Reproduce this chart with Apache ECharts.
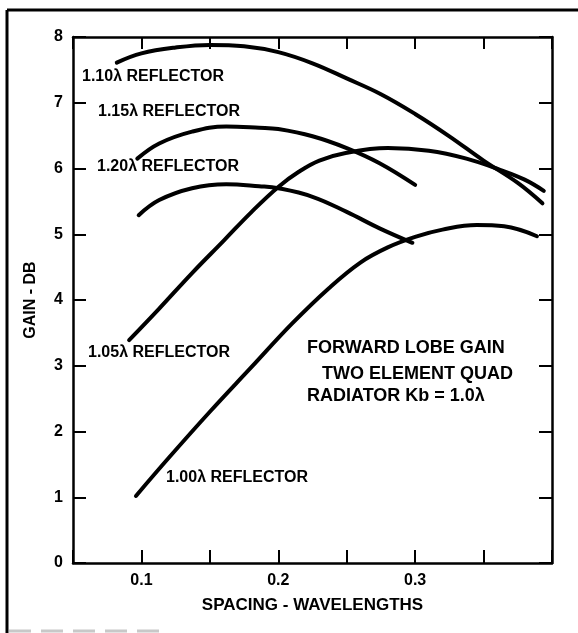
<!DOCTYPE html>
<html>
<head>
<meta charset="utf-8">
<script src="https://cdn.jsdelivr.net/npm/echarts@6/dist/echarts.min.js"></script>
<style>
  html, body { margin: 0; padding: 0; background: #fff; }
  #chart { width: 578px; height: 633px; }
</style>
</head>
<body>
<div id="chart"></div>
<script>
// ---- data ----
const xLabelValues = [0.1, 0.2, 0.3];
const xTickLabels = ['0.1', '0.2', '0.3'];

const r110_x = [0.082, 0.100, 0.125, 0.150, 0.175, 0.200, 0.225, 0.250, 0.275, 0.300, 0.325, 0.350, 0.375, 0.393];
const r110_y = [7.61, 7.75, 7.84, 7.88, 7.86, 7.77, 7.60, 7.37, 7.13, 6.83, 6.49, 6.12, 5.78, 5.47];

const r115_x = [0.097, 0.113, 0.137, 0.162, 0.186, 0.200, 0.225, 0.250, 0.274, 0.300];
const r115_y = [6.15, 6.38, 6.56, 6.64, 6.62, 6.60, 6.49, 6.31, 6.08, 5.75];

const r120_x = [0.098, 0.113, 0.137, 0.162, 0.186, 0.200, 0.225, 0.250, 0.274, 0.298];
const r120_y = [5.29, 5.52, 5.70, 5.76, 5.73, 5.70, 5.57, 5.34, 5.09, 4.87];

const r105_x = [0.091, 0.113, 0.137, 0.160, 0.180, 0.200, 0.215, 0.230, 0.250, 0.280, 0.310, 0.3375, 0.362, 0.380, 0.394];
const r105_y = [3.39, 3.87, 4.41, 4.90, 5.33, 5.72, 5.95, 6.12, 6.24, 6.31, 6.27, 6.15, 5.98, 5.83, 5.66];

const r100_x = [0.096, 0.120, 0.150, 0.180, 0.210, 0.237, 0.260, 0.280, 0.300, 0.320, 0.345, 0.365, 0.389];
const r100_y = [1.02, 1.60, 2.30, 2.97, 3.64, 4.18, 4.57, 4.80, 4.96, 5.07, 5.14, 5.12, 4.97];

const seriesNames = ['1.10λ REFLECTOR', '1.15λ REFLECTOR', '1.20λ REFLECTOR', '1.05λ REFLECTOR', '1.00λ REFLECTOR'];
const noteLines = ['FORWARD LOBE GAIN', 'TWO ELEMENT QUAD', 'RADIATOR Kb = 1.0λ'];
const xAxisTitle = 'SPACING - WAVELENGTHS';
const yAxisTitle = 'GAIN - DB';

// ---- build ----
const FONT = '"Liberation Sans", Arial, sans-serif';
const pairs = (xs, ys) => xs.map((x, i) => [x, ys[i]]);
const allData = [pairs(r110_x, r110_y), pairs(r115_x, r115_y), pairs(r120_x, r120_y), pairs(r105_x, r105_y), pairs(r100_x, r100_y)];

const axisLineStyle = { color: '#000', width: 2.5 };
const tickStyle = { color: '#000', width: 2 };

function xFmt(v) {
  for (let i = 0; i < xLabelValues.length; i++) {
    if (Math.abs(v - xLabelValues[i]) < 1e-6) return xTickLabels[i];
  }
  return '';
}

const labelStyle = { color: '#000', fontWeight: 'bold', fontSize: 16, fontFamily: FONT };

const chart = echarts.init(document.getElementById('chart'), null, { renderer: 'canvas' });

function txt(text, x, y, size) {
  return {
    type: 'text', x: x, y: y, z: 100,
    style: {
      text: text, fill: '#000',
      font: 'bold ' + size + 'px ' + FONT,
      textAlign: 'left', textVerticalAlign: 'middle',
      align: 'left', verticalAlign: 'middle'
    }
  };
}

const option = {
  animation: false,
  backgroundColor: '#fff',
  grid: { left: 73, right: 26, top: 37, bottom: 70 },
  xAxis: [
    {
      type: 'value', min: 0.05, max: 0.4, interval: 0.05, position: 'bottom',
      axisLine: { show: true, onZero: false, lineStyle: axisLineStyle },
      axisTick: { show: true, inside: true, length: 13, lineStyle: tickStyle },
      axisLabel: Object.assign({ formatter: xFmt, margin: 10, showMinLabel: true, showMaxLabel: true }, labelStyle),
      splitLine: { show: false },
      name: xAxisTitle, nameLocation: 'middle', nameGap: 34,
      nameTextStyle: { color: '#000', fontWeight: 'bold', fontSize: 17, fontFamily: FONT }
    },
    {
      type: 'value', min: 0.05, max: 0.4, interval: 0.05, position: 'top',
      axisLine: { show: true, onZero: false, lineStyle: axisLineStyle },
      axisTick: { show: true, inside: true, length: 12, lineStyle: tickStyle },
      axisLabel: { show: false },
      splitLine: { show: false }
    }
  ],
  yAxis: [
    {
      type: 'value', min: 0, max: 8, interval: 1, position: 'left',
      axisLine: { show: true, onZero: false, lineStyle: axisLineStyle },
      axisTick: { show: true, inside: true, length: 13, lineStyle: tickStyle },
      axisLabel: Object.assign({ margin: 10 }, labelStyle),
      splitLine: { show: false },
      name: yAxisTitle, nameLocation: 'middle', nameGap: 34,
      nameTextStyle: { color: '#000', fontWeight: 'bold', fontSize: 16, fontFamily: FONT }
    },
    {
      type: 'value', min: 0, max: 8, interval: 1, position: 'right',
      axisLine: { show: true, onZero: false, lineStyle: axisLineStyle },
      axisTick: { show: true, inside: true, length: 13, lineStyle: tickStyle },
      axisLabel: { show: false },
      splitLine: { show: false }
    }
  ],
  series: allData.map((d, i) => ({
    name: seriesNames[i],
    type: 'line', xAxisIndex: 0, yAxisIndex: 0,
    data: d, smooth: 0.4, symbol: 'none',
    lineStyle: { color: '#000', width: 4, cap: 'round' }
  })),
  graphic: [
    // scanned page frame
    { type: 'line', shape: { x1: 7, y1: 10, x2: 578, y2: 10 }, style: { stroke: '#000', lineWidth: 3 } },
    { type: 'line', shape: { x1: 7, y1: 10, x2: 7, y2: 633 }, style: { stroke: '#000', lineWidth: 3 } },
    { type: 'line', shape: { x1: 9, y1: 631, x2: 160, y2: 631 }, style: { stroke: '#c8c8c8', lineWidth: 3, lineDash: [22, 10] } },
    // curve labels
    txt(seriesNames[0], 82, 77, 16),
    txt(seriesNames[1], 98, 112, 16),
    txt(seriesNames[2], 97, 167, 16),
    txt(seriesNames[3], 88, 353, 16),
    txt(seriesNames[4], 166, 478, 16),
    // note block
    txt(noteLines[0], 307, 348, 18),
    txt(noteLines[1], 322, 374, 18),
    txt(noteLines[2], 307, 396, 18)
  ]
};

chart.setOption(option);
</script>
</body>
</html>
